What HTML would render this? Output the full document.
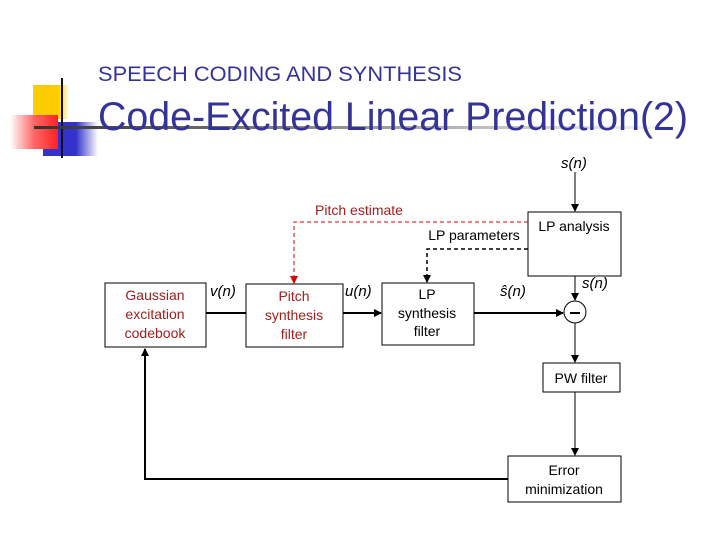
<!DOCTYPE html>
<html><head><style>body{margin:0;background:#fff}svg{display:block}</style></head><body>
<svg width="720" height="540" xmlns="http://www.w3.org/2000/svg" font-family="Liberation Sans, sans-serif">
<defs>
<linearGradient id="hl" x1="0" x2="1"><stop offset="0" stop-color="#333"/><stop offset="0.5" stop-color="#999"/><stop offset="1" stop-color="#fff"/></linearGradient>
<linearGradient id="rd" x1="0" x2="1"><stop offset="0" stop-color="#fff"/><stop offset="0.5" stop-color="#f66"/><stop offset="1" stop-color="#f22"/></linearGradient>
<linearGradient id="yl" x1="0" x2="1"><stop offset="0" stop-color="#fc0"/><stop offset="0.7" stop-color="#fc0"/><stop offset="1" stop-color="#fff"/></linearGradient>
<linearGradient id="bl" x1="0" x2="1"><stop offset="0" stop-color="#33c"/><stop offset="0.6" stop-color="#33c"/><stop offset="1" stop-color="#fff"/></linearGradient>
<marker id="a" markerWidth="8" markerHeight="8" refX="7" refY="4" orient="auto" markerUnits="userSpaceOnUse"><path d="M0,0 L8,4 L0,8z" fill="#000"/></marker>
<marker id="ar" markerWidth="8" markerHeight="8" refX="7" refY="4" orient="auto" markerUnits="userSpaceOnUse"><path d="M0,0 L8,4 L0,8z" fill="#d00"/></marker>
</defs>
<rect x="33" y="85" width="36" height="34" fill="url(#yl)"/>
<rect x="43" y="122" width="55" height="34" fill="url(#bl)"/>
<rect x="10" y="115" width="48" height="34" fill="url(#rd)"/>
<line x1="62" y1="78" x2="62" y2="158" stroke="#111" stroke-width="2"/>
<rect x="34" y="126" width="660" height="3" fill="url(#hl)"/>
<text x="98" y="81" font-size="21" fill="#333399" textLength="364" lengthAdjust="spacingAndGlyphs">SPEECH CODING AND SYNTHESIS</text>
<text x="98" y="130" font-size="40" fill="#333399" textLength="590" lengthAdjust="spacingAndGlyphs">Code-Excited Linear Prediction(2)</text>
<g fill="none" stroke="#000">
<rect x="105" y="283" width="101" height="64"/>
<rect x="246" y="284" width="97" height="63"/>
<rect x="382" y="283" width="92" height="62"/>
<rect x="528" y="212" width="93" height="64"/>
<rect x="543" y="363" width="77" height="29"/>
<rect x="508" y="456" width="113" height="46"/>
<circle cx="575" cy="312" r="11"/>
<line x1="575" y1="172" x2="575" y2="211" marker-end="url(#a)"/>
<line x1="575" y1="276" x2="575" y2="300" marker-end="url(#a)"/>
<line x1="575" y1="323" x2="575" y2="362" marker-end="url(#a)"/>
<line x1="575" y1="392" x2="575" y2="455" marker-end="url(#a)"/>
<g stroke-width="2"><line x1="206" y1="313" x2="246" y2="313"/>
<line x1="343" y1="313" x2="381" y2="313" marker-end="url(#a)"/>
<line x1="474" y1="313" x2="563" y2="313" marker-end="url(#a)"/>
<polyline points="508,479 145,479 145,349" marker-end="url(#a)"/></g>
<polyline points="528,222 294,222 294,283" stroke="#d00" stroke-dasharray="4,3" marker-end="url(#ar)"/>
<polyline points="528,249 427,249 427,282" stroke-dasharray="4,3" stroke-width="1.5" marker-end="url(#a)"/>
<line x1="570" y1="313" x2="580" y2="313" stroke-width="2"/>
</g>
<g font-size="14" text-anchor="middle">
<g fill="#a02020"><text x="155" y="300">Gaussian</text><text x="155" y="319">excitation</text><text x="155" y="338">codebook</text>
<text x="294" y="301">Pitch</text><text x="294" y="320">synthesis</text><text x="294" y="339">filter</text>
<text x="359" y="215" font-size="14">Pitch estimate</text></g>
<text x="427" y="299">LP</text><text x="427" y="318">synthesis</text><text x="427" y="336">filter</text>
<text x="574" y="231">LP analysis</text>
<text x="581" y="383">PW filter</text>
<text x="564" y="475">Error</text><text x="564" y="494">minimization</text>
<text x="474" y="240" font-size="14">LP parameters</text>
</g>
<g font-size="15" font-style="italic">
<text x="210" y="296">v(n)</text><text x="345" y="296">u(n)</text><text x="500" y="296">ŝ(n)</text>
<text x="582" y="288">s(n)</text><text x="561" y="168">s(n)</text>
</g>
</svg>
</body></html>
